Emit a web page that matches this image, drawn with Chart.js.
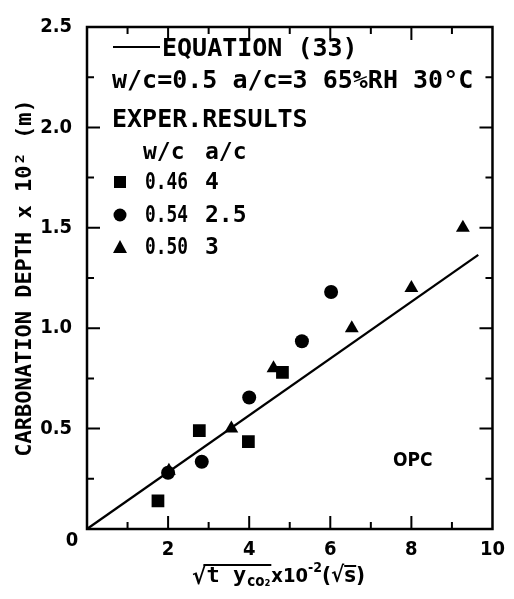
<!DOCTYPE html>
<html lang="en">
<head>
    <meta charset="UTF-8">
    <title>Carbonation depth vs sqrt(t yCO2)</title>
    <script src="https://cdn.jsdelivr.net/npm/chart.js"></script>
    <style>
        body { margin: 0; padding: 0; background: #fff; }
        #wrap { width: 514px; height: 599px; }
    </style>
</head>
<body>
    <div id="wrap"><canvas id="chart" width="514" height="599"></canvas></div>

    <script>
        // data
        var squareX = [1.75, 2.77, 3.98, 4.82];
        var squareY = [0.14, 0.49, 0.435, 0.78];
        var circleX = [2.0, 2.83, 4.0, 5.3, 6.02];
        var circleY = [0.28, 0.335, 0.655, 0.935, 1.18];
        var triangleX = [2.02, 3.56, 4.6, 6.53, 8.0, 9.27];
        var triangleY = [0.29, 0.5, 0.8, 1.0, 1.2, 1.5];
        var equationX = [0, 9.65];
        var equationY = [0, 1.365];
        var xTickLabels = [2, 4, 6, 8, 10];
        var yTickLabels = [0.5, 1.0, 1.5, 2.0, 2.5];

        function pairs(xs, ys) {
            return xs.map(function (v, i) { return { x: v, y: ys[i] }; });
        }

        var MONO = "'DejaVu Sans Mono', 'Liberation Mono', monospace";
        var NARROW = "'Liberation Sans Narrow', 'DejaVu Sans Condensed', 'Liberation Sans', sans-serif";

        // frame, inward ticks, legend block and x title
        var decor = {
            id: 'decor',
            afterDraw: function (chart) {
                var ctx = chart.ctx, a = chart.chartArea;
                var x = chart.scales.x, y = chart.scales.y;
                ctx.save();
                ctx.strokeStyle = '#000';
                ctx.fillStyle = '#000';
                ctx.lineWidth = 2.5;
                ctx.strokeRect(a.left, a.top, a.right - a.left, a.bottom - a.top);

                ctx.lineWidth = 2;
                ctx.beginPath();
                for (var v = 1; v < 10; v++) {
                    var px = x.getPixelForValue(v);
                    var len = v % 2 === 0 ? 13 : 7;
                    ctx.moveTo(px, a.bottom); ctx.lineTo(px, a.bottom - len);
                    ctx.moveTo(px, a.top); ctx.lineTo(px, a.top + len);
                }
                for (var k = 1; k < 10; k++) {
                    var py = y.getPixelForValue(k * 0.25);
                    var l2 = k % 2 === 0 ? 13 : 7;
                    ctx.moveTo(a.left, py); ctx.lineTo(a.left + l2, py);
                    ctx.moveTo(a.right, py); ctx.lineTo(a.right - l2, py);
                }
                ctx.stroke();

                // origin label
                ctx.font = 'bold 20px ' + NARROW;
                ctx.textAlign = 'center';
                ctx.textBaseline = 'middle';
                ctx.fillText('0', 72, 541);

                // legend block
                ctx.textAlign = 'left';
                ctx.font = 'bold 25px ' + MONO;
                ctx.lineWidth = 2;
                ctx.beginPath();
                ctx.moveTo(113, 47); ctx.lineTo(160, 47);
                ctx.stroke();
                ctx.fillText('EQUATION (33)', 162, 49, 196);
                ctx.fillText('w/c=0.5 a/c=3 65%RH 30\u00B0C', 112, 81, 368);
                ctx.fillText('EXPER.RESULTS', 112, 120, 200);
                ctx.font = 'bold 23px ' + MONO;
                ctx.fillText('w/c', 143, 153, 42);
                ctx.fillText('a/c', 205, 153, 44);

                var rows = [['0.46', '4', 182], ['0.54', '2.5', 215], ['0.50', '3', 247]];
                rows.forEach(function (r, i) {
                    ctx.fillText(r[0], 145, r[2] + 1, 43);
                    ctx.fillText(r[1], 205, r[2] + 1, 46);
                    ctx.beginPath();
                    if (i === 0) {
                        ctx.rect(114, r[2] - 6, 12, 12);
                    } else if (i === 1) {
                        ctx.arc(120, r[2], 6.5, 0, Math.PI * 2);
                    } else {
                        ctx.moveTo(120, r[2] - 7); ctx.lineTo(127, r[2] + 6); ctx.lineTo(113, r[2] + 6);
                        ctx.closePath();
                    }
                    ctx.fill();
                });

                // OPC note
                ctx.font = 'bold 19px ' + NARROW;
                ctx.fillText('OPC', 393, 461);

                // x axis title: sqrt(t y_CO2) x10^-2 (sqrt s)
                var bx = 192, base = 584;
                ctx.font = 'bold 24px ' + NARROW;
                ctx.textBaseline = 'alphabetic';
                ctx.fillText('\u221A', bx, base);
                bx += ctx.measureText('\u221A').width;
                var ovStart = bx;
                ctx.font = 'bold 22px ' + MONO;
                ctx.fillText('t y', bx, base - 2);
                bx += ctx.measureText('t y').width;
                ctx.font = 'bold 15px ' + NARROW;
                ctx.fillText('co\u2082', bx + 1, base + 2);
                bx += ctx.measureText('co\u2082').width + 2;
                ctx.lineWidth = 2;
                ctx.beginPath();
                ctx.moveTo(ovStart - 3, 565); ctx.lineTo(bx, 565);
                ctx.stroke();
                ctx.font = 'bold 20px ' + NARROW;
                ctx.fillText('x10', bx, base - 2);
                bx += ctx.measureText('x10').width;
                ctx.font = 'bold 14px ' + NARROW;
                ctx.fillText('-2', bx, base - 12);
                bx += ctx.measureText('-2').width;
                ctx.font = 'bold 22px ' + NARROW;
                ctx.fillText('(\u221A', bx, base - 2);
                bx += ctx.measureText('(\u221A').width;
                ctx.beginPath();
                ctx.moveTo(bx, 566); ctx.lineTo(bx + 12, 566);
                ctx.stroke();
                ctx.fillText('s)', bx, base - 2);
                ctx.restore();
            }
        };

        var ctx1 = document.getElementById('chart').getContext('2d');
        var chart = new Chart(ctx1, {
            type: 'scatter',
            data: {
                datasets: [{
                    type: 'line',
                    label: 'Equation (33)',
                    data: pairs(equationX, equationY),
                    borderColor: '#000',
                    borderWidth: 2.3,
                    pointRadius: 0,
                    fill: false
                }, {
                    label: 'w/c 0.46 a/c 4',
                    data: pairs(squareX, squareY),
                    pointStyle: 'rect',
                    pointRadius: 9,
                    backgroundColor: '#000',
                    borderColor: '#000',
                    borderWidth: 0
                }, {
                    label: 'w/c 0.54 a/c 2.5',
                    data: pairs(circleX, circleY),
                    pointStyle: 'circle',
                    pointRadius: 7,
                    backgroundColor: '#000',
                    borderColor: '#000',
                    borderWidth: 0
                }, {
                    label: 'w/c 0.50 a/c 3',
                    data: pairs(triangleX, triangleY),
                    pointStyle: 'triangle',
                    pointRadius: 8,
                    backgroundColor: '#000',
                    borderColor: '#000',
                    borderWidth: 0
                }]
            },
            options: {
                responsive: false,
                animation: false,
                events: [],
                layout: { padding: { top: 14, right: 16, left: 0, bottom: 0 } },
                plugins: {
                    legend: { display: false },
                    tooltip: { enabled: false }
                },
                scales: {
                    x: {
                        type: 'linear',
                        min: 0,
                        max: 10,
                        grid: { display: false, drawTicks: false },
                        border: { display: false },
                        ticks: {
                            stepSize: 1,
                            autoSkip: false,
                            maxRotation: 0,
                            padding: 9,
                            color: '#000',
                            font: { family: NARROW, weight: 'bold', size: 20 },
                            callback: function (v) { return xTickLabels.indexOf(v) >= 0 ? String(v) : ''; }
                        },
                        afterFit: function (s) { s.height = 70; }
                    },
                    y: {
                        min: 0,
                        max: 2.5,
                        grid: { display: false, drawTicks: false },
                        border: { display: false },
                        ticks: {
                            stepSize: 0.5,
                            padding: 15,
                            color: '#000',
                            font: { family: NARROW, weight: 'bold', size: 20 },
                            callback: function (v) {
                                return yTickLabels.indexOf(v) >= 0 ? v.toFixed(1) : '';
                            }
                        },
                        title: {
                            display: true,
                            text: 'CARBONATION DEPTH x 10\u00B2 (m)',
                            color: '#000',
                            font: { family: MONO, weight: 'bold', size: 22 },
                            padding: { top: 12, bottom: 0 }
                        },
                        afterFit: function (s) { s.width = 87; }
                    }
                }
            },
            plugins: [decor]
        });
    </script>
</body>
</html>
